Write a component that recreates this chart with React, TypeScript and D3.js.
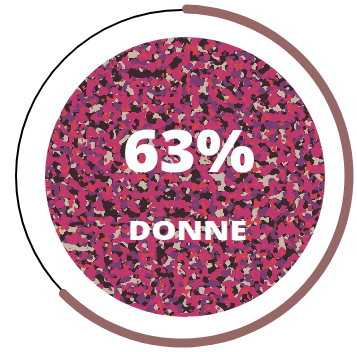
import React from "react";
import * as d3 from "d3";

const W = 357;
const H = 352;

const percentValue = [63];
const labels = ["DONNE"];
const palette = ["#3b282b", "#c7b6a5", "#7b3f6f", "#bd396b", "#cf4150"];
const layerThresholds = [0.53, 0.52, 0.51, 0.66];
const layerSeeds = [3, 11, 23, 41];

function hexToUnit(h: string) {
  const c = d3.rgb(h);
  return [c.r / 255, c.g / 255, c.b / 255];
}

export default function App() {
  const cx = 182;
  const cy = 176;
  const ringR = 167;
  const ringW = 9;
  const innerCx = 185;
  const innerCy = 177;
  const innerR = 140;

  const scale = d3.scaleLinear().domain([0, 100]).range([0, 2 * Math.PI]);
  const arc = d3
    .arc<any>()
    .innerRadius(ringR - ringW / 2)
    .outerRadius(ringR + ringW / 2)
    .cornerRadius(ringW / 2)
    .startAngle(0)
    .endAngle(scale(percentValue[0]));

  const k = 30;

  return (
    <svg width={W} height={H} style={{ position: "absolute", left: 0, top: 0, display: "block" }}>
      <defs>
        <clipPath id="innerClip">
          <circle cx={innerCx} cy={innerCy} r={innerR} />
        </clipPath>
        <filter id="speckle" x="0" y="0" width="1" height="1" colorInterpolationFilters="sRGB">
          <feFlood floodColor={palette[0]} result="base" />
          {layerSeeds.map((s, i) => {
            const [r, g, b] = hexToUnit(palette[i + 1]);
            const t = layerThresholds[i];
            return (
              <React.Fragment key={i}>
                <feTurbulence
                  type="fractalNoise"
                  baseFrequency="0.115"
                  numOctaves={2}
                  seed={s}
                  result={`n${i}`}
                />
                <feColorMatrix
                  in={`n${i}`}
                  type="matrix"
                  values={`0 0 0 0 ${r} 0 0 0 0 ${g} 0 0 0 0 ${b} ${k} 0 0 0 ${-k * t}`}
                  result={`l${i}`}
                />
              </React.Fragment>
            );
          })}
          <feMerge>
            <feMergeNode in="base" />
            <feMergeNode in="l0" />
            <feMergeNode in="l1" />
            <feMergeNode in="l2" />
            <feMergeNode in="l3" />
          </feMerge>
        </filter>
      </defs>

      <circle cx={cx} cy={cy} r={ringR - 1} fill="none" stroke="#000" strokeWidth={2} />
      <path d={arc({}) || ""} transform={`translate(${cx},${cy})`} fill="#956866" />

      <g clipPath="url(#innerClip)">
        <rect
          x={innerCx - innerR}
          y={innerCy - innerR}
          width={innerR * 2}
          height={innerR * 2}
          fill="#000"
          filter="url(#speckle)"
        />
      </g>

      <text
        x={189}
        y={172}
        textAnchor="middle"
        fill="#fff"
        fontFamily="'Open Sans', sans-serif"
        fontWeight={800}
        fontSize={58}
        textLength={132}
        lengthAdjust="spacingAndGlyphs"
      >
        {`${percentValue[0]}%`}
      </text>
      <text
        x={187.5}
        y={240}
        textAnchor="middle"
        fill="#fff"
        fontFamily="'Open Sans', sans-serif"
        fontWeight={800}
        fontSize={27}
        textLength={119}
        lengthAdjust="spacingAndGlyphs"
      >
        {labels[0]}
      </text>
    </svg>
  );
}
